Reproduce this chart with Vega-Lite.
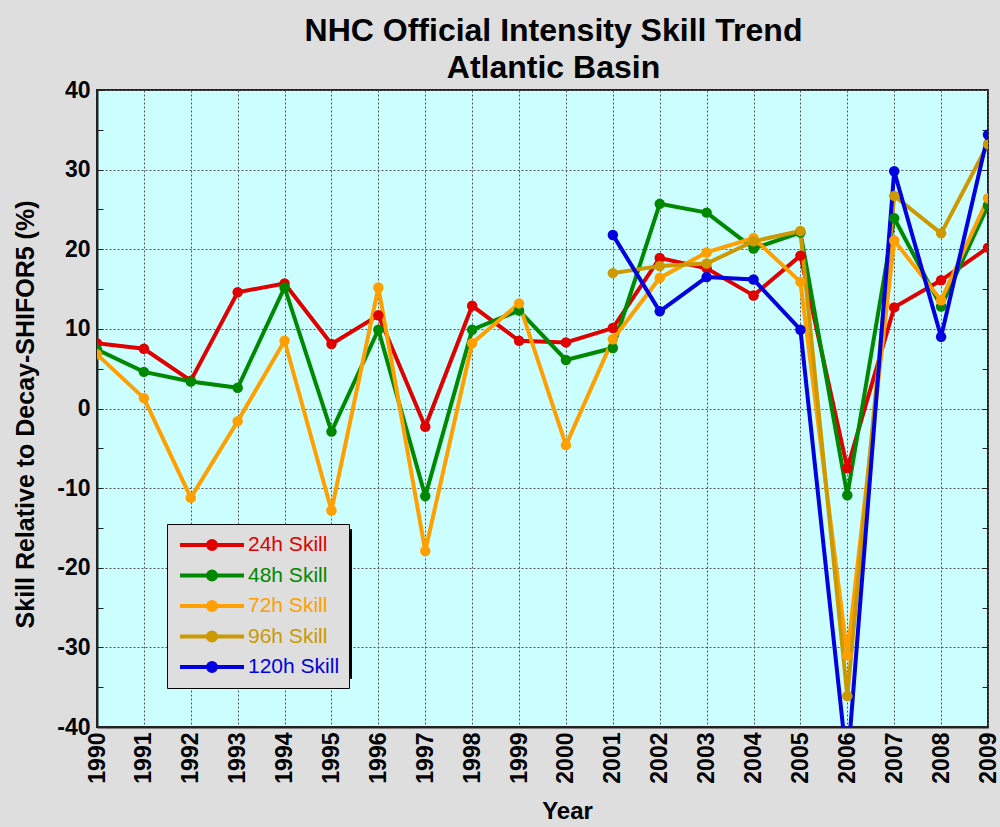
{
  "$schema": "https://vega.github.io/schema/vega-lite/v6.json",
  "autosize": {"type": "none"},
  "width": 891,
  "height": 637,
  "padding": {"left": 97, "top": 90, "right": 12, "bottom": 100},
  "background": "#DEDEDE",
  "title": {
    "text": ["NHC Official Intensity Skill Trend", "Atlantic Basin"],
    "font": "Liberation Sans",
    "fontSize": 32,
    "fontWeight": "bold",
    "color": "black",
    "lineHeight": 37,
    "anchor": "middle",
    "dx": 11,
    "offset": -6
  },
  "data": {
    "values": [
      {"year": 1990, "series": "24h Skill", "skill": 8.2},
      {"year": 1991, "series": "24h Skill", "skill": 7.5},
      {"year": 1992, "series": "24h Skill", "skill": 3.5},
      {"year": 1993, "series": "24h Skill", "skill": 14.6},
      {"year": 1994, "series": "24h Skill", "skill": 15.7},
      {"year": 1995, "series": "24h Skill", "skill": 8.1},
      {"year": 1996, "series": "24h Skill", "skill": 11.7},
      {"year": 1997, "series": "24h Skill", "skill": -2.3},
      {"year": 1998, "series": "24h Skill", "skill": 12.9},
      {"year": 1999, "series": "24h Skill", "skill": 8.5},
      {"year": 2000, "series": "24h Skill", "skill": 8.3},
      {"year": 2001, "series": "24h Skill", "skill": 10.1},
      {"year": 2002, "series": "24h Skill", "skill": 18.9},
      {"year": 2003, "series": "24h Skill", "skill": 17.6},
      {"year": 2004, "series": "24h Skill", "skill": 14.2},
      {"year": 2005, "series": "24h Skill", "skill": 19.2},
      {"year": 2006, "series": "24h Skill", "skill": -7.5},
      {"year": 2007, "series": "24h Skill", "skill": 12.7},
      {"year": 2008, "series": "24h Skill", "skill": 16.1},
      {"year": 2009, "series": "24h Skill", "skill": 20.2},
      {"year": 1990, "series": "48h Skill", "skill": 7.4},
      {"year": 1991, "series": "48h Skill", "skill": 4.6},
      {"year": 1992, "series": "48h Skill", "skill": 3.4},
      {"year": 1993, "series": "48h Skill", "skill": 2.6},
      {"year": 1994, "series": "48h Skill", "skill": 15.2},
      {"year": 1995, "series": "48h Skill", "skill": -2.9},
      {"year": 1996, "series": "48h Skill", "skill": 9.9},
      {"year": 1997, "series": "48h Skill", "skill": -11.0},
      {"year": 1998, "series": "48h Skill", "skill": 9.9},
      {"year": 1999, "series": "48h Skill", "skill": 12.3},
      {"year": 2000, "series": "48h Skill", "skill": 6.1},
      {"year": 2001, "series": "48h Skill", "skill": 7.6},
      {"year": 2002, "series": "48h Skill", "skill": 25.7},
      {"year": 2003, "series": "48h Skill", "skill": 24.6},
      {"year": 2004, "series": "48h Skill", "skill": 20.1},
      {"year": 2005, "series": "48h Skill", "skill": 22.1},
      {"year": 2006, "series": "48h Skill", "skill": -10.9},
      {"year": 2007, "series": "48h Skill", "skill": 23.9},
      {"year": 2008, "series": "48h Skill", "skill": 12.8},
      {"year": 2009, "series": "48h Skill", "skill": 25.5},
      {"year": 1990, "series": "72h Skill", "skill": 6.8},
      {"year": 1991, "series": "72h Skill", "skill": 1.3},
      {"year": 1992, "series": "72h Skill", "skill": -11.2},
      {"year": 1993, "series": "72h Skill", "skill": -1.6},
      {"year": 1994, "series": "72h Skill", "skill": 8.5},
      {"year": 1995, "series": "72h Skill", "skill": -12.8},
      {"year": 1996, "series": "72h Skill", "skill": 15.2},
      {"year": 1997, "series": "72h Skill", "skill": -17.9},
      {"year": 1998, "series": "72h Skill", "skill": 8.2},
      {"year": 1999, "series": "72h Skill", "skill": 13.2},
      {"year": 2000, "series": "72h Skill", "skill": -4.6},
      {"year": 2001, "series": "72h Skill", "skill": 8.7},
      {"year": 2002, "series": "72h Skill", "skill": 16.4},
      {"year": 2003, "series": "72h Skill", "skill": 19.6},
      {"year": 2004, "series": "72h Skill", "skill": 21.4},
      {"year": 2005, "series": "72h Skill", "skill": 15.9},
      {"year": 2006, "series": "72h Skill", "skill": -31.0},
      {"year": 2007, "series": "72h Skill", "skill": 21.1},
      {"year": 2008, "series": "72h Skill", "skill": 13.6},
      {"year": 2009, "series": "72h Skill", "skill": 26.4},
      {"year": 2001, "series": "96h Skill", "skill": 17.0},
      {"year": 2002, "series": "96h Skill", "skill": 17.9},
      {"year": 2003, "series": "96h Skill", "skill": 18.2},
      {"year": 2004, "series": "96h Skill", "skill": 21.0},
      {"year": 2005, "series": "96h Skill", "skill": 22.3},
      {"year": 2006, "series": "96h Skill", "skill": -36.1},
      {"year": 2007, "series": "96h Skill", "skill": 26.7},
      {"year": 2008, "series": "96h Skill", "skill": 22.0},
      {"year": 2009, "series": "96h Skill", "skill": 33.2},
      {"year": 2001, "series": "120h Skill", "skill": 21.8},
      {"year": 2002, "series": "120h Skill", "skill": 12.2},
      {"year": 2003, "series": "120h Skill", "skill": 16.5},
      {"year": 2004, "series": "120h Skill", "skill": 16.2},
      {"year": 2005, "series": "120h Skill", "skill": 9.9},
      {"year": 2006, "series": "120h Skill", "skill": -45.0},
      {"year": 2007, "series": "120h Skill", "skill": 29.8},
      {"year": 2008, "series": "120h Skill", "skill": 9.0},
      {"year": 2009, "series": "120h Skill", "skill": 34.4}
    ]
  },
  "encoding": {
    "x": {
      "field": "year",
      "type": "quantitative",
      "scale": {"domain": [1990, 2009], "nice": false, "zero": false},
      "axis": {
        "title": "Year",
        "titleFontSize": 24,
        "titleX": 470,
        "titleY": 91,
        "titleAlign": "center",
        "titleBaseline": "alphabetic",
        "values": [1990, 1991, 1992, 1993, 1994, 1995, 1996, 1997, 1998, 1999, 2000, 2001, 2002, 2003, 2004, 2005, 2006, 2007, 2008, 2009],
        "format": "d",
        "labelAngle": -90,
        "labelFontSize": 23,
        "labelFlush": false,
        "labelOverlap": false,
        "labelPadding": 5,
        "ticks": false
      }
    },
    "color": {
      "field": "series",
      "type": "nominal",
      "scale": {
        "domain": ["24h Skill", "48h Skill", "72h Skill", "96h Skill", "120h Skill"],
        "range": ["#E00000", "#008800", "#FFA000", "#CC9900", "#0000E0"]
      },
      "legend": {
        "title": null,
        "orient": "none",
        "legendX": 70,
        "legendY": 434,
        "zindex": 2,
        "direction": "vertical",
        "fillColor": "#DEDEDE",
        "strokeColor": "black",
        "padding": 9,
        "rowPadding": 6.5,
        "symbolType": "M-3.2,0H3.2M0.4,0A0.4,0.4,0,1,1,-0.4,0A0.4,0.4,0,1,1,0.4,0M0.1,0A0.1,0.1,0,1,1,-0.1,0A0.1,0.1,0,1,1,0.1,0",
        "symbolSize": 400,
        "symbolStrokeWidth": 4,
        "symbolOffset": 24,
        "labelOffset": 24,
        "labelFont": "Liberation Sans",
        "labelFontSize": 21,
        "labelColor": {"expr": "scale('color', datum.value)"}
      }
    },
    "opacity": {
      "field": "series",
      "type": "ordinal",
      "scale": {
        "domain": ["120h Skill", "96h Skill", "72h Skill", "48h Skill", "24h Skill"],
        "range": [1, 1]
      },
      "legend": {
        "title": null,
        "orient": "none",
        "legendX": 75,
        "legendY": 439,
        "zindex": 1,
        "direction": "vertical",
        "fillColor": "black",
        "strokeColor": "black",
        "padding": 9,
        "rowPadding": 6.5,
        "symbolType": "M-3.2,0H3.2",
        "symbolSize": 400,
        "symbolOpacity": 0,
        "symbolOffset": 24,
        "labelOffset": 115,
        "labelFont": "Liberation Sans",
        "labelFontSize": 21,
        "labelExpr": "''"
      }
    }
  },
  "layer": [
    {
      "mark": {"type": "line", "strokeWidth": 4, "clip": true},
      "encoding": {
        "y": {
          "field": "skill",
          "type": "quantitative",
          "scale": {"domain": [-40, 40], "nice": false},
          "axis": {
            "title": "Skill Relative to Decay-SHIFOR5 (%)",
            "titleFontSize": 25,
            "titleX": -72,
            "titleY": 324,
            "titleAngle": -90,
            "titleAlign": "center",
            "titleBaseline": "middle",
            "values": [-40, -35, -30, -25, -20, -15, -10, -5, 0, 5, 10, 15, 20, 25, 30, 35, 40],
            "labelExpr": "datum.value % 10 === 0 ? '' + datum.value : ''",
            "labelFontSize": 23,
            "tickSize": -6,
            "labelPadding": 13,
            "gridOpacity": {"condition": {"test": "datum.value % 10 !== 0", "value": 0}, "value": 1}
          }
        }
      }
    },
    {
      "mark": {"type": "point", "filled": true, "size": 110, "opacity": 1, "clip": true},
      "encoding": {
        "y": {
          "field": "skill",
          "type": "quantitative",
          "axis": {
            "orient": "right",
            "title": null,
            "labels": false,
            "grid": false,
            "domain": false,
            "tickSize": -6,
            "values": [-35, -30, -25, -20, -15, -10, -5, 0, 5, 10, 15, 20, 25, 30, 35]
          }
        }
      }
    }
  ],
  "resolve": {"axis": {"y": "independent"}},
  "config": {
    "font": "Liberation Sans",
    "view": {"fill": "#CCFFFF", "stroke": "#222222", "strokeWidth": 2},
    "axis": {
      "labelFont": "Liberation Sans",
      "labelFontWeight": "bold",
      "labelColor": "black",
      "titleFont": "Liberation Sans",
      "titleFontWeight": "bold",
      "titleColor": "black",
      "grid": true,
      "gridColor": "#555555",
      "gridDash": [2, 2],
      "gridWidth": 1,
      "domainColor": "#222222",
      "domainWidth": 2,
      "tickColor": "#222222"
    }
  }
}
